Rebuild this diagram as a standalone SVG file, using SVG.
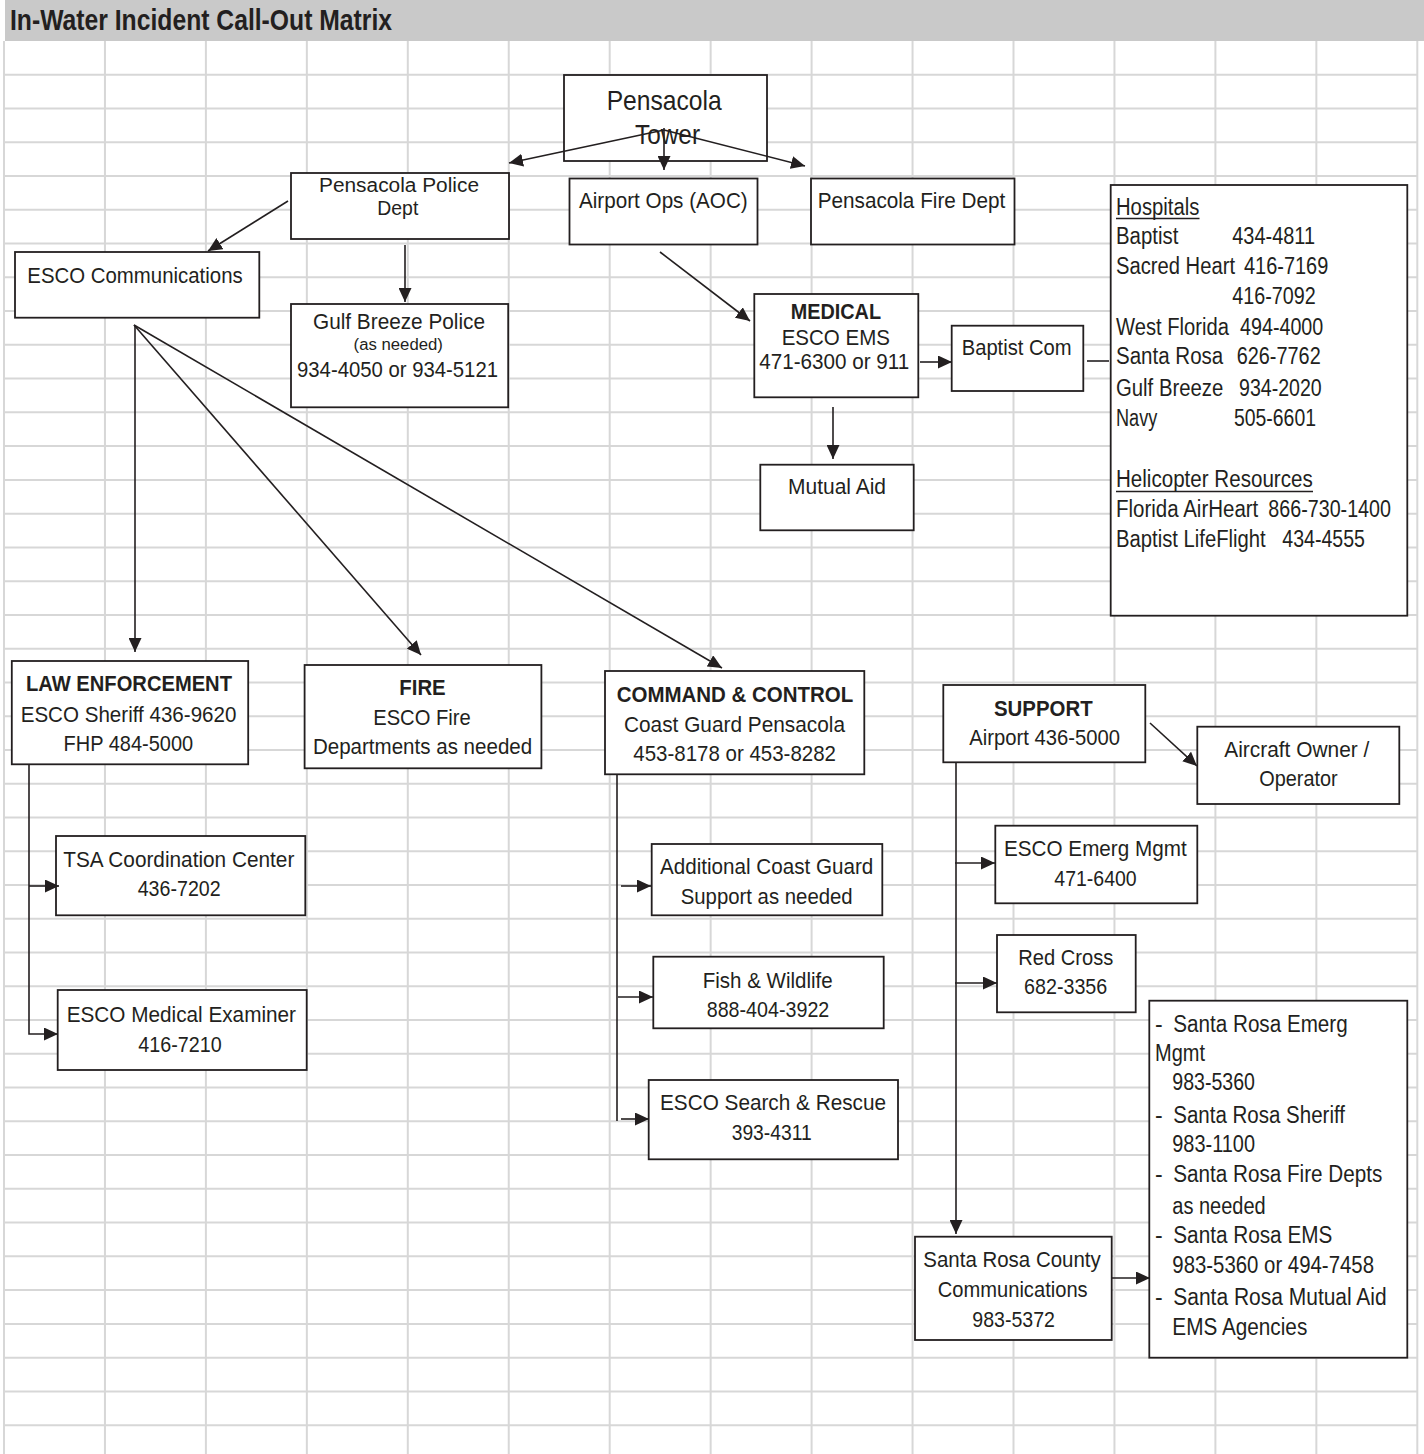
<svg xmlns="http://www.w3.org/2000/svg" width="1424" height="1454" viewBox="0 0 1424 1454">
<style>
.grid{stroke:#d7d7d7;stroke-width:2;fill:none}
.box{fill:#fff;stroke:#231f20;stroke-width:1.8}
.t{font-family:"Liberation Sans Narrow","Arial Narrow","Liberation Sans",Arial,sans-serif;font-size:22px;fill:#231f20}
.b{font-weight:bold}
.h{font-size:23px}
.c{stroke:#231f20;stroke-width:1.6;fill:none}
.a{marker-end:url(#arr)}
.u{stroke:#231f20;stroke-width:1.3}
</style>
<defs>
<marker id="arr" markerUnits="userSpaceOnUse" markerWidth="14" markerHeight="13" refX="14" refY="6.5" orient="auto">
<path d="M0,0 L14,6.5 L0,13 Z" fill="#231f20"/>
</marker>
</defs>
<rect x="0" y="0" width="1424" height="1454" fill="#fff"/>
<rect x="5" y="0" width="1419" height="41" fill="#c9c9c9"/>
<g id="grid" class="grid">
<path d="M4,41V1454M104.95,41V1454M205.9,41V1454M306.85,41V1454M407.8,41V1454M508.75,41V1454M609.7,41V1454M710.65,41V1454M811.6,41V1454M912.55,41V1454M1013.5,41V1454M1114.45,41V1454M1215.4,41V1454M1316.35,41V1454M1417.3,41V1454"/>
<path d="M4,74.76H1418M4,108.52H1418M4,142.28H1418M4,176.04H1418M4,209.8H1418M4,243.56H1418M4,277.32H1418M4,311.08H1418M4,344.84H1418M4,378.6H1418M4,412.36H1418M4,446.12H1418M4,479.88H1418M4,513.64H1418M4,547.4H1418M4,581.16H1418M4,614.92H1418M4,648.68H1418M4,682.44H1418M4,716.2H1418M4,749.96H1418M4,783.72H1418M4,817.48H1418M4,851.24H1418M4,885H1418M4,918.76H1418M4,952.52H1418M4,986.28H1418M4,1020.04H1418M4,1053.8H1418M4,1087.56H1418M4,1121.32H1418M4,1155.08H1418M4,1188.84H1418M4,1222.6H1418M4,1256.36H1418M4,1290.12H1418M4,1323.88H1418M4,1357.64H1418M4,1391.4H1418M4,1425.16H1418"/>
</g>
<text class="t b" x="10" y="30" style="font-size:30px" textLength="382" lengthAdjust="spacingAndGlyphs">In-Water Incident Call-Out Matrix</text>

<g id="tower">
<rect class="box" x="564" y="75" width="203" height="86"/>
<text class="t" style="font-size:28px" x="606.7" y="110" textLength="115" lengthAdjust="spacingAndGlyphs">Pensacola</text>
<text class="t" style="font-size:28px" x="635" y="144" textLength="65" lengthAdjust="spacingAndGlyphs">Tower</text>
</g>
<g id="police">
<rect class="box" x="291" y="173" width="218" height="66"/>
<text class="t" style="font-size:20px" x="319" y="191.5" textLength="160" lengthAdjust="spacingAndGlyphs">Pensacola Police</text>
<text class="t" style="font-size:20px" x="377.3" y="214.5" textLength="41" lengthAdjust="spacingAndGlyphs">Dept</text>
</g>
<g id="aoc">
<rect class="box" x="569.5" y="178.5" width="188" height="66"/>
<text class="t" x="579" y="208.3" textLength="168.7" lengthAdjust="spacingAndGlyphs">Airport Ops (AOC)</text>
</g>
<g id="firedept">
<rect class="box" x="811" y="178.5" width="203.5" height="66"/>
<text class="t" x="817.7" y="208" textLength="187.6" lengthAdjust="spacingAndGlyphs">Pensacola Fire Dept</text>
</g>
<g id="escocomm">
<rect class="box" x="15" y="252" width="244.3" height="65.7"/>
<text class="t" x="27.3" y="282.7" textLength="215.4" lengthAdjust="spacingAndGlyphs">ESCO Communications</text>
</g>
<g id="gulfbreeze">
<rect class="box" x="291" y="304" width="217.2" height="103.3"/>
<text class="t" x="313" y="329.3" textLength="172" lengthAdjust="spacingAndGlyphs">Gulf Breeze Police</text>
<text class="t" style="font-size:16px" x="353.6" y="350" textLength="89.3" lengthAdjust="spacingAndGlyphs">(as needed)</text>
<text class="t" x="297" y="377.3" textLength="201" lengthAdjust="spacingAndGlyphs">934-4050  or  934-5121</text>
</g>
<g id="medical">
<rect class="box" x="754.3" y="294" width="164" height="103.3"/>
<text class="t b" x="790.7" y="319" textLength="90.3" lengthAdjust="spacingAndGlyphs">MEDICAL</text>
<text class="t" x="781.7" y="345" textLength="108.3" lengthAdjust="spacingAndGlyphs">ESCO EMS</text>
<text class="t" x="759.3" y="369.3" textLength="150" lengthAdjust="spacingAndGlyphs">471-6300  or  911</text>
</g>
<g id="baptistcom">
<rect class="box" x="951.7" y="325.7" width="131.6" height="65.3"/>
<text class="t" x="961.7" y="355" textLength="110" lengthAdjust="spacingAndGlyphs">Baptist Com</text>
</g>
<g id="hospitals">
<rect class="box" x="1110.7" y="185" width="296.6" height="430.7"/>
<text class="t h" x="1116" y="215" textLength="83.3" lengthAdjust="spacingAndGlyphs">Hospitals</text>
<line class="u" x1="1116" y1="218.5" x2="1199.5" y2="218.5"/>
<text class="t h" x="1116" y="244" textLength="62.3" lengthAdjust="spacingAndGlyphs">Baptist</text>
<text class="t h" x="1232.3" y="244" textLength="82.7" lengthAdjust="spacingAndGlyphs">434-4811</text>
<text class="t h" x="1116" y="274" textLength="119" lengthAdjust="spacingAndGlyphs">Sacred Heart</text>
<text class="t h" x="1244" y="274" textLength="84.3" lengthAdjust="spacingAndGlyphs">416-7169</text>
<text class="t h" x="1232.3" y="304" textLength="83.4" lengthAdjust="spacingAndGlyphs">416-7092</text>
<text class="t h" x="1116" y="335" textLength="113" lengthAdjust="spacingAndGlyphs">West Florida</text>
<text class="t h" x="1240" y="335" textLength="83.3" lengthAdjust="spacingAndGlyphs">494-4000</text>
<text class="t h" x="1116" y="364.3" textLength="107.3" lengthAdjust="spacingAndGlyphs">Santa  Rosa</text>
<text class="t h" x="1236.7" y="364.3" textLength="84" lengthAdjust="spacingAndGlyphs">626-7762</text>
<text class="t h" x="1116" y="396" textLength="107.3" lengthAdjust="spacingAndGlyphs">Gulf  Breeze</text>
<text class="t h" x="1239" y="396" textLength="82.7" lengthAdjust="spacingAndGlyphs">934-2020</text>
<text class="t h" x="1116" y="426" textLength="41.3" lengthAdjust="spacingAndGlyphs">Navy</text>
<text class="t h" x="1234" y="426" textLength="82" lengthAdjust="spacingAndGlyphs">505-6601</text>
<text class="t h" x="1116" y="487.3" textLength="196.7" lengthAdjust="spacingAndGlyphs">Helicopter  Resources</text>
<line class="u" x1="1116" y1="491.5" x2="1313" y2="491.5"/>
<text class="t h" x="1116" y="517.3" textLength="142.3" lengthAdjust="spacingAndGlyphs">Florida  AirHeart</text>
<text class="t h" x="1268.3" y="517.3" textLength="122.7" lengthAdjust="spacingAndGlyphs">866-730-1400</text>
<text class="t h" x="1116" y="547.3" textLength="149.7" lengthAdjust="spacingAndGlyphs">Baptist LifeFlight</text>
<text class="t h" x="1282.3" y="547.3" textLength="82.7" lengthAdjust="spacingAndGlyphs">434-4555</text>
</g>
<g id="mutualaid">
<rect class="box" x="760.3" y="464.7" width="153.4" height="65.6"/>
<text class="t" x="788" y="494.3" textLength="98" lengthAdjust="spacingAndGlyphs">Mutual  Aid</text>
</g>
<g id="law">
<rect class="box" x="11.8" y="661" width="236.4" height="103.3"/>
<text class="t b" x="26" y="690.7" textLength="206" lengthAdjust="spacingAndGlyphs">LAW ENFORCEMENT</text>
<text class="t" x="20.7" y="721.7" textLength="215.7" lengthAdjust="spacingAndGlyphs">ESCO Sheriff  436-9620</text>
<text class="t" x="63.6" y="750.7" textLength="129.6" lengthAdjust="spacingAndGlyphs">FHP 484-5000</text>
</g>
<g id="fire">
<rect class="box" x="304.6" y="665" width="236.8" height="103.3"/>
<text class="t b" x="399.3" y="695" textLength="46.4" lengthAdjust="spacingAndGlyphs">FIRE</text>
<text class="t" x="373.2" y="725" textLength="97.5" lengthAdjust="spacingAndGlyphs">ESCO Fire</text>
<text class="t" x="312.9" y="754" textLength="219.3" lengthAdjust="spacingAndGlyphs">Departments  as needed</text>
</g>
<g id="command">
<rect class="box" x="605" y="671" width="259.3" height="103.3"/>
<text class="t b" x="616.7" y="701.7" textLength="236.6" lengthAdjust="spacingAndGlyphs">COMMAND  &amp;  CONTROL</text>
<text class="t" x="624" y="731.7" textLength="221" lengthAdjust="spacingAndGlyphs">Coast  Guard Pensacola</text>
<text class="t" x="633.3" y="760.7" textLength="202.7" lengthAdjust="spacingAndGlyphs">453-8178  or  453-8282</text>
</g>
<g id="support">
<rect class="box" x="943.3" y="685" width="202" height="77.3"/>
<text class="t b" x="994" y="716" textLength="98.7" lengthAdjust="spacingAndGlyphs">SUPPORT</text>
<text class="t" x="969.3" y="745" textLength="150.7" lengthAdjust="spacingAndGlyphs">Airport 436-5000</text>
</g>
<g id="aircraft">
<rect class="box" x="1197.3" y="726.7" width="202" height="77.3"/>
<text class="t" x="1224.3" y="757.3" textLength="145" lengthAdjust="spacingAndGlyphs">Aircraft  Owner  /</text>
<text class="t" x="1259.3" y="786" textLength="78.4" lengthAdjust="spacingAndGlyphs">Operator</text>
</g>
<g id="tsa">
<rect class="box" x="56" y="836" width="249.3" height="79.3"/>
<text class="t" x="63.3" y="866.7" textLength="231" lengthAdjust="spacingAndGlyphs">TSA  Coordination  Center</text>
<text class="t" x="137.7" y="896" textLength="83" lengthAdjust="spacingAndGlyphs">436-7202</text>
</g>
<g id="examiner">
<rect class="box" x="57.7" y="990" width="249" height="80"/>
<text class="t" x="66.7" y="1021.7" textLength="229.3" lengthAdjust="spacingAndGlyphs">ESCO Medical  Examiner</text>
<text class="t" x="138.3" y="1051.7" textLength="83.4" lengthAdjust="spacingAndGlyphs">416-7210</text>
</g>
<g id="addlcg">
<rect class="box" x="651.7" y="844" width="230.6" height="71.3"/>
<text class="t" x="660" y="874" textLength="213.3" lengthAdjust="spacingAndGlyphs">Additional  Coast  Guard</text>
<text class="t" x="680.7" y="904" textLength="172" lengthAdjust="spacingAndGlyphs">Support  as  needed</text>
</g>
<g id="fish">
<rect class="box" x="653.3" y="956.7" width="230.4" height="71.6"/>
<text class="t" x="702.7" y="987.7" textLength="130" lengthAdjust="spacingAndGlyphs">Fish &amp; Wildlife</text>
<text class="t" x="706.7" y="1017.3" textLength="122.6" lengthAdjust="spacingAndGlyphs">888-404-3922</text>
</g>
<g id="sar">
<rect class="box" x="648.7" y="1080" width="249.3" height="79.3"/>
<text class="t" x="660" y="1110" textLength="226" lengthAdjust="spacingAndGlyphs">ESCO Search &amp; Rescue</text>
<text class="t" x="731.7" y="1140" textLength="80" lengthAdjust="spacingAndGlyphs">393-4311</text>
</g>
<g id="emergmgmt">
<rect class="box" x="995.3" y="825.7" width="202" height="77.6"/>
<text class="t" x="1004" y="856" textLength="182.7" lengthAdjust="spacingAndGlyphs">ESCO Emerg Mgmt</text>
<text class="t" x="1054.3" y="885.7" textLength="82.4" lengthAdjust="spacingAndGlyphs">471-6400</text>
</g>
<g id="redcross">
<rect class="box" x="997" y="935" width="138.7" height="77.3"/>
<text class="t" x="1018.3" y="965" textLength="95" lengthAdjust="spacingAndGlyphs">Red Cross</text>
<text class="t" x="1024" y="994.3" textLength="83.3" lengthAdjust="spacingAndGlyphs">682-3356</text>
</g>
<g id="srcc">
<rect class="box" x="915" y="1236.7" width="196.7" height="103.3"/>
<text class="t" x="923.3" y="1266.7" textLength="177.4" lengthAdjust="spacingAndGlyphs">Santa  Rosa County</text>
<text class="t" x="937.7" y="1296.7" textLength="150" lengthAdjust="spacingAndGlyphs">Communications</text>
<text class="t" x="972.3" y="1327.3" textLength="82.7" lengthAdjust="spacingAndGlyphs">983-5372</text>
</g>
<g id="srlist">
<rect class="box" x="1149.3" y="1000.7" width="258" height="357"/>
<text class="t h" x="1155" y="1031.7">-</text>
<text class="t h" x="1173.3" y="1031.7" textLength="174.4" lengthAdjust="spacingAndGlyphs">Santa  Rosa  Emerg</text>
<text class="t h" x="1155" y="1060.7" textLength="50" lengthAdjust="spacingAndGlyphs">Mgmt</text>
<text class="t h" x="1172.3" y="1090" textLength="82.7" lengthAdjust="spacingAndGlyphs">983-5360</text>
<text class="t h" x="1155" y="1122.7">-</text>
<text class="t h" x="1173.3" y="1122.7" textLength="171.7" lengthAdjust="spacingAndGlyphs">Santa  Rosa  Sheriff</text>
<text class="t h" x="1172.3" y="1152.3" textLength="82.7" lengthAdjust="spacingAndGlyphs">983-1100</text>
<text class="t h" x="1155" y="1182.3">-</text>
<text class="t h" x="1173.3" y="1182.3" textLength="209" lengthAdjust="spacingAndGlyphs">Santa  Rosa  Fire  Depts</text>
<text class="t h" x="1172.3" y="1214" textLength="93.4" lengthAdjust="spacingAndGlyphs">as needed</text>
<text class="t h" x="1155" y="1243.3">-</text>
<text class="t h" x="1173.3" y="1243.3" textLength="159" lengthAdjust="spacingAndGlyphs">Santa  Rosa  EMS</text>
<text class="t h" x="1172.3" y="1273.3" textLength="201.7" lengthAdjust="spacingAndGlyphs">983-5360  or  494-7458</text>
<text class="t h" x="1155" y="1305">-</text>
<text class="t h" x="1173.3" y="1305" textLength="213.4" lengthAdjust="spacingAndGlyphs">Santa  Rosa  Mutual  Aid</text>
<text class="t h" x="1172.3" y="1335" textLength="135" lengthAdjust="spacingAndGlyphs">EMS  Agencies</text>
</g>

<g id="connectors">
<line class="c a" x1="664" y1="130" x2="509" y2="163"/>
<line class="c a" x1="664" y1="128" x2="664" y2="170"/>
<line class="c a" x1="664" y1="130" x2="805" y2="166"/>
<line class="c a" x1="288" y1="201" x2="208" y2="251"/>
<line class="c a" x1="405" y1="245" x2="405" y2="302"/>
<line class="c a" x1="135" y1="325" x2="135" y2="652"/>
<line class="c a" x1="134" y1="325" x2="421" y2="655"/>
<line class="c a" x1="134" y1="325" x2="722" y2="668"/>
<line class="c a" x1="660" y1="252" x2="750" y2="321"/>
<line class="c a" x1="920" y1="362" x2="952" y2="362"/>
<line class="c" x1="1087" y1="361" x2="1109" y2="361"/>
<line class="c a" x1="833" y1="407" x2="833" y2="459"/>
<path class="c a" d="M29,765 V1034 H58"/>
<line class="c a" x1="29" y1="886" x2="59" y2="886"/>
<line class="c" x1="617" y1="775" x2="617" y2="1121"/>
<line class="c a" x1="621" y1="886" x2="651" y2="886"/>
<line class="c a" x1="618" y1="997" x2="653" y2="997"/>
<line class="c a" x1="621" y1="1119" x2="649" y2="1119"/>
<line class="c a" x1="956" y1="763" x2="956" y2="1234"/>
<line class="c a" x1="955" y1="863" x2="995" y2="863"/>
<line class="c a" x1="955" y1="983" x2="997" y2="983"/>
<line class="c a" x1="1150" y1="723" x2="1197" y2="766"/>
<line class="c a" x1="1111" y1="1278" x2="1150" y2="1278"/>
</g>
</svg>
